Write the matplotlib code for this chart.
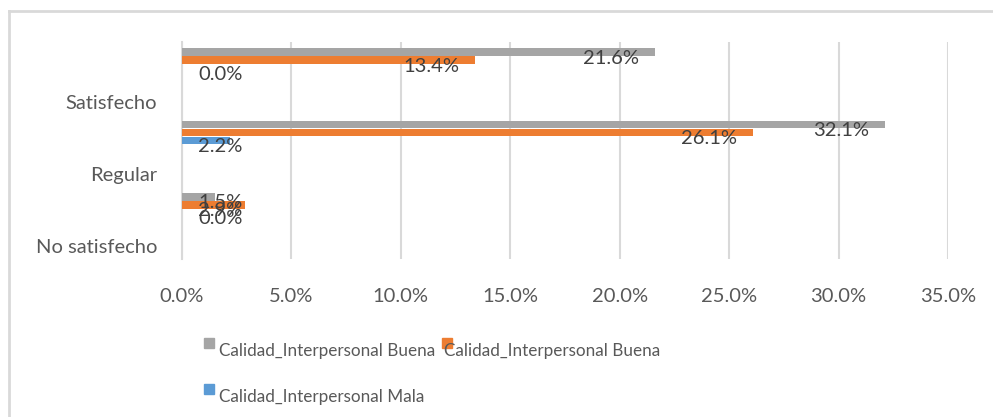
import numpy as np
import matplotlib
matplotlib.use("Agg")
import matplotlib.pyplot as plt
from matplotlib.patches import Rectangle
from matplotlib.ticker import FuncFormatter

# categories bottom -> top
categories = ['No satisfecho', 'Regular', 'Satisfecho']
buena_gris = [1.5, 32.1, 21.6]
buena_naranja = [2.9, 26.1, 13.4]
mala = [0.0, 2.2, 0.0]
series_names = ['Calidad_Interpersonal Buena', 'Calidad_Interpersonal Buena',
                'Calidad_Interpersonal Mala']

GRAY = '#A5A5A5'
ORANGE = '#ED7D31'
BLUE = '#5B9BD5'
TEXT = '#595959'
LABEL = '#404040'
GRID = '#D9D9D9'

plt.rcParams['font.family'] = ['Lato', 'DejaVu Sans']
FS = 14.5
FS_LEG = 14

W, H = 993, 417
fig = plt.figure(figsize=(W / 100, H / 100), dpi=100)
ax = fig.add_axes([182 / W, (H - 259) / H, (948 - 182) / W, (259 - 42) / H])

pos = np.arange(len(categories))
bar_h = 0.105
# bars sit near the top of each band (as in the original Excel chart)
offsets = [0.14, 0.25, 0.36]
series = [buena_gris, buena_naranja, mala]
colors = [GRAY, ORANGE, BLUE]

for vals, col, off in zip(series, colors, offsets):
    yy = pos + 1 - off
    ax.barh(yy, vals, height=bar_h, color=col, zorder=3)
    for y, v in zip(yy, vals):
        xc = max(v - 2.0, 1.75)
        ax.text(xc, y - 0.085, f'{v:.1f}%', ha='center', va='center',
                fontsize=FS, color=LABEL, zorder=4)

ax.set_xlim(0, 35)
ax.set_ylim(0, 3)
ax.set_xticks(np.arange(0, 36, 5))
ax.xaxis.set_major_formatter(FuncFormatter(lambda x, _: f'{x:.1f}%'))
ax.set_yticks(pos + 0.175)
ax.set_yticklabels(categories)
ax.tick_params(axis='x', length=0, pad=21, labelsize=FS, labelcolor=TEXT)
ax.tick_params(axis='y', length=0, pad=18, labelsize=FS, labelcolor=TEXT)
ax.grid(axis='x', color=GRID, linewidth=1.5, zorder=0)
for s in ['top', 'right', 'bottom']:
    ax.spines[s].set_visible(False)
ax.spines['left'].set_color(GRID)
ax.spines['left'].set_linewidth(1.5)

# legend drawn by hand to keep the overlapping Excel layout
legend_items = [(204, 343, GRAY, series_names[0], 219),
                (442, 343, ORANGE, series_names[1], 444),
                (204, 389, BLUE, series_names[2], 219)]
leg_texts = []
for px, py, col, name, tx in legend_items:
    fig.patches.append(Rectangle((px / W, (H - py - 5) / H), 10 / W, 10 / H,
                                 transform=fig.transFigure, color=col))
    leg_texts.append(fig.text(tx / W, (H - py - 8) / H, name, ha='left',
                              va='center', fontsize=FS_LEG, color=TEXT, zorder=5))

# size the legend text so the first entry spans ~216 px like the original
renderer = fig.canvas.get_renderer()
w0 = leg_texts[0].get_window_extent(renderer).width
for t in leg_texts:
    t.set_fontsize(FS_LEG * 216 / w0)

# chart border (top and left visible)
fig.add_artist(plt.Line2D([9 / W, 1], [(H - 11) / H] * 2, color=GRID, lw=2,
                          transform=fig.transFigure))
fig.add_artist(plt.Line2D([9 / W] * 2, [0, (H - 11) / H], color=GRID, lw=2,
                          transform=fig.transFigure))

fig.savefig('out.png', dpi=100)
